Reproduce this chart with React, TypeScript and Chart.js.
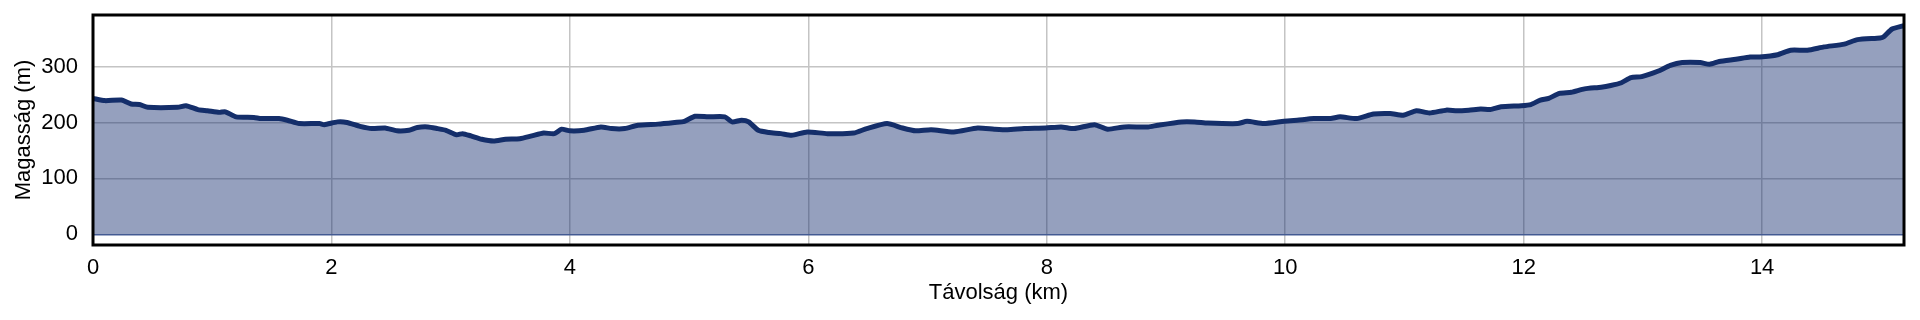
import React, { useEffect, useRef } from 'react';
import { Chart, registerables } from 'chart.js';

Chart.register(...registerables);

const distanceKm = [
  0, 0.1, 0.24, 0.32, 0.39, 0.46, 0.71, 0.78, 0.88, 0.96, 1.06, 1.11, 1.2, 1.35, 1.41, 1.56, 1.63, 1.73, 1.9, 1.94,
  2.05, 2.13, 2.24, 2.34, 2.45, 2.55, 2.65, 2.72, 2.81, 2.89, 2.96, 3.05, 3.1, 3.17, 3.26, 3.36, 3.46, 3.58, 3.68, 3.78,
  3.87, 3.93, 4.0, 4.12, 4.26, 4.35, 4.46, 4.57, 4.74, 4.88, 4.96, 5.05, 5.16, 5.3, 5.36, 5.44, 5.5, 5.58, 5.67, 5.77,
  5.86, 5.99, 6.16, 6.38, 6.49, 6.66, 6.79, 6.9, 7.03, 7.22, 7.42, 7.56, 7.67, 7.81, 7.99, 8.12, 8.23, 8.4, 8.51, 8.65,
  8.85, 8.93, 9.13, 9.24, 9.35, 9.6, 9.68, 9.82, 9.99, 10.1, 10.24, 10.38, 10.46, 10.6, 10.74, 10.88, 10.99, 11.1, 11.21, 11.35,
  11.44, 11.54, 11.64, 11.72, 11.81, 11.98, 12.06, 12.14, 12.21, 12.3, 12.4, 12.51, 12.65, 12.73, 12.82, 12.9, 12.99, 13.13, 13.23, 13.33,
  13.48, 13.56, 13.64, 13.78, 13.9, 13.98, 14.13, 14.24, 14.38, 14.52, 14.69, 14.8, 14.99, 15.02, 15.09, 15.19,
];

const elevationM = [
  243, 239, 240, 233, 232, 227, 227, 230, 223, 221, 218, 219, 210, 209, 207, 207, 204, 198, 198, 196,
  201, 200, 193, 189, 190, 185, 186, 191, 192, 189, 186, 178, 180, 176, 170, 167, 170, 171, 176, 181,
  180, 188, 185, 186, 192, 189, 189, 195, 197, 200, 202, 211, 210, 210, 201, 204, 201, 186, 182, 180,
  177, 183, 180, 181, 189, 198, 190, 185, 187, 183, 190, 188, 187, 189, 190, 192, 189, 196, 188, 192,
  192, 195, 201, 201, 199, 198, 202, 198, 202, 204, 207, 207, 210, 207, 215, 216, 213, 221, 217, 222,
  221, 222, 224, 223, 228, 230, 232, 240, 243, 252, 254, 260, 263, 266, 271, 280, 282, 292, 302, 307,
  307, 304, 309, 313, 317, 317, 321, 329, 329, 335, 340, 348, 351, 353, 367, 373,
];

const xAxisTitle = 'Távolság (km)';
const yAxisTitle = 'Magasság (m)';

const FONT = '"Liberation Sans", Arial, sans-serif';
const FONT_SIZE = 22;

const framePlugin = {
  id: 'frame',
  afterDraw(chart: any) {
    const { ctx, chartArea } = chart;
    const { left, top, right, bottom } = chartArea;
    ctx.save();
    ctx.strokeStyle = '#000';
    ctx.lineWidth = 3;
    ctx.strokeRect(left, top, right - left, bottom - top);
    ctx.restore();
  },
};

export default function App() {
  const ref = useRef<HTMLCanvasElement>(null);

  useEffect(() => {
    const chart = new Chart(ref.current as HTMLCanvasElement, {
      type: 'line',
      data: {
        datasets: [
          {
            data: distanceKm.map((x, i) => ({ x, y: elevationM[i] })),
            borderColor: '#142e6a',
            borderWidth: 5,
            backgroundColor: 'rgba(20,45,110,0.45)',
            fill: 'origin',
            pointRadius: 0,
            tension: 0.2,
            borderJoinStyle: 'round',
            borderCapStyle: 'round',
          },
        ],
      },
      options: {
        animation: false,
        responsive: false,
        maintainAspectRatio: false,
        layout: { padding: { top: 15, right: 16, left: 0, bottom: 0 } },
        plugins: { legend: { display: false }, tooltip: { enabled: false } },
        scales: {
          x: {
            type: 'linear',
            min: 0,
            max: 15.19,
            afterFit: (s: any) => {
              s.height = 75;
              s.paddingLeft = 0;
              s.paddingRight = 0;
            },
            grid: { color: '#c4c4c4', lineWidth: 1.5, drawTicks: false },
            border: { display: false },
            ticks: {
              stepSize: 2,
              includeBounds: false,
              padding: 10,
              color: '#000',
              font: { family: FONT, size: FONT_SIZE },
            },
            title: {
              display: true,
              text: xAxisTitle,
              color: '#000',
              font: { family: FONT, size: FONT_SIZE },
              padding: { top: 0, bottom: 14 },
            },
          },
          y: {
            type: 'linear',
            min: -19,
            max: 392,
            afterFit: (s: any) => {
              s.width = 93;
              s.paddingTop = 0;
              s.paddingBottom = 0;
            },
            grid: {
              color: (c: any) => (c.tick && c.tick.value === 0 ? '#4a6098' : '#c4c4c4'),
              lineWidth: 1.5,
              drawTicks: false,
            },
            border: { display: false },
            ticks: {
              stepSize: 100,
              includeBounds: false,
              padding: 15,
              color: '#000',
              font: { family: FONT, size: FONT_SIZE },
            },
            title: {
              display: true,
              text: yAxisTitle,
              color: '#000',
              font: { family: FONT, size: FONT_SIZE },
              padding: { top: 11, bottom: 0 },
            },
          },
        },
      },
      plugins: [framePlugin],
    } as any);
    return () => chart.destroy();
  }, []);

  return (
    <div style={{ position: 'fixed', left: 0, top: 0, width: 1920, height: 320, background: '#fff' }}>
      <canvas ref={ref} width={1920} height={320} style={{ display: 'block' }} />
    </div>
  );
}
